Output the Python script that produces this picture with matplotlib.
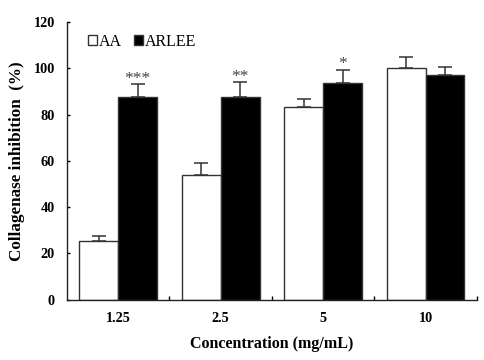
import matplotlib
matplotlib.use("Agg")
import matplotlib.pyplot as plt
import numpy as np

categories = ["1.25", "2.5", "5", "10"]
aa_values = [25.2, 54.0, 83.4, 100.1]
aa_err = [2.5, 5.0, 3.2, 4.9]
arlee_values = [87.7, 87.7, 93.8, 97.0]
arlee_err = [5.4, 6.4, 5.5, 3.6]
sig_labels = ["***", "**", "*", ""]

plt.rcParams['font.family'] = ['Liberation Serif', 'DejaVu Serif']

fig = plt.figure(figsize=(4.85, 3.6), dpi=100)
ax = fig.add_axes([0.138, 0.1675, 0.845, 0.7715])

x = np.arange(len(categories))
w = 0.38
ec = '#333333'
ax.bar(x - w/2, aa_values, w, color='white', edgecolor=ec, linewidth=1.0, label='AA', zorder=2)
ax.bar(x + w/2, arlee_values, w, color='black', edgecolor=ec, linewidth=1.0, label='ARLEE', zorder=2)
ax.errorbar(x - w/2, aa_values, yerr=[np.zeros(4), aa_err], fmt='none', ecolor=ec,
            elinewidth=1.1, capsize=5, capthick=1.1, zorder=1)
ax.errorbar(x + w/2, arlee_values, yerr=[np.zeros(4), arlee_err], fmt='none', ecolor=ec,
            elinewidth=1.1, capsize=5, capthick=1.1, zorder=1)

for xi, v, e, s in zip(x, arlee_values, arlee_err, sig_labels):
    if s:
        ax.text(xi + w/2, v + e + 0.6, s, ha='center', va='baseline', fontsize=12.5, color='#444444')

ax.set_xlim(-0.5, 3.5)
ax.set_ylim(0, 120)
ax.set_yticks([0, 20, 40, 60, 80, 100, 120])
ax.set_xticks(x)
ax.set_xticklabels(categories)
ax.set_xticks(np.arange(0.5, 4.0, 1.0), minor=True)
ax.tick_params(axis='x', which='major', length=0, pad=8.5)
ax.tick_params(axis='x', which='minor', length=3, direction='in', width=1)
ax.tick_params(axis='y', direction='in', length=2.5, width=1, pad=8.5)
for lab in ax.get_xticklabels() + ax.get_yticklabels():
    lab.set_fontweight('bold')
    lab.set_fontsize(10.3)

for sp in ['top', 'right']:
    ax.spines[sp].set_visible(False)
for sp in ['left', 'bottom']:
    ax.spines[sp].set_linewidth(1.0)
    ax.spines[sp].set_color('#222222')

ax.set_xlabel("Concentration (mg/mL)", fontsize=11.5, fontweight='bold', labelpad=8)
ax.set_ylabel("Collagenase inhibition  (%)", fontsize=12.3, fontweight='bold', labelpad=6)

ax.legend(loc='center left', bbox_to_anchor=(0.051, 0.929), frameon=False, ncol=2,
          fontsize=11.5, handlelength=0.56, handleheight=0.56, handletextpad=0.1,
          columnspacing=0.8, borderpad=0, borderaxespad=0)

fig.savefig("out.png", dpi=100)
